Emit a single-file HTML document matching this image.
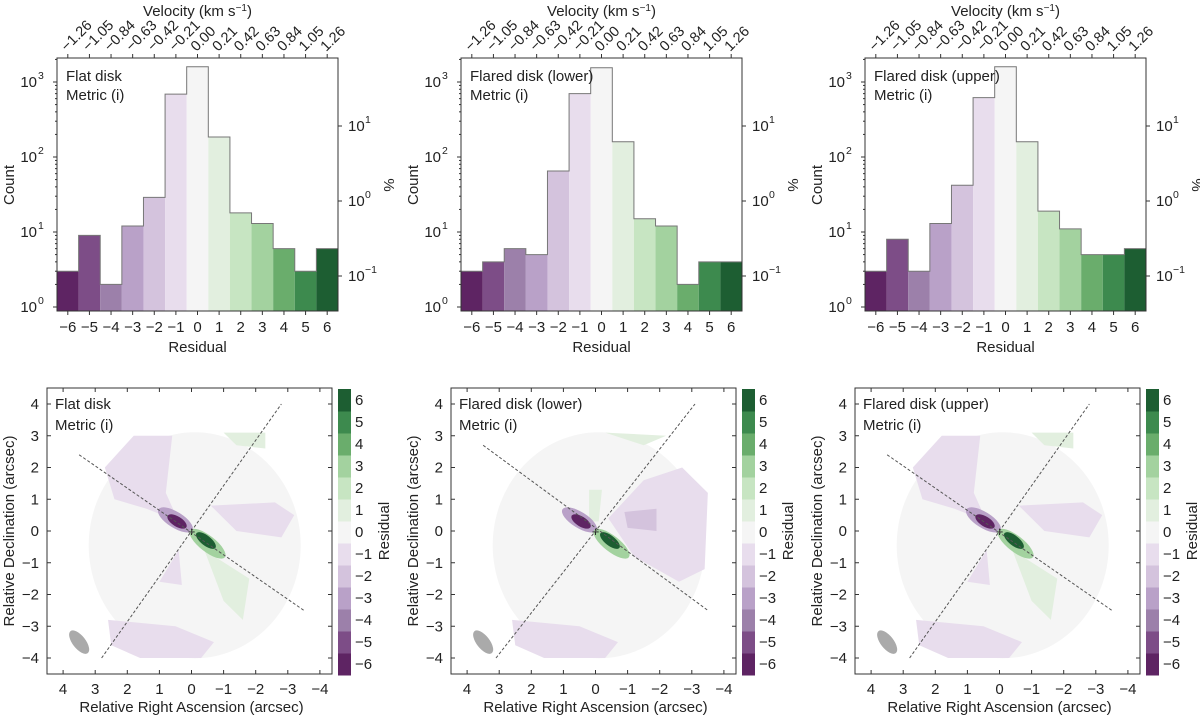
<!DOCTYPE html>
<html><head><meta charset="utf-8"><style>
body{margin:0;background:#fff}
svg{display:block;font-family:"Liberation Sans",sans-serif}
</style></head><body>
<svg id="fig" width="1200" height="717" viewBox="0 0 1200 717"></svg>
<script>
const residualBins=[-6,-5,-4,-3,-2,-1,0,1,2,3,4,5,6];
const countsFlat=[3,9,2,12,29,690,1600,185,18,13,6,3,6];
const countsLower=[3,4,6,5,65,700,1550,160,15,12,2,4,4];
const countsUpper=[3,8,3,13,42,620,1600,160,19,11,5,5,6];
const velocityTicks=["\u22121.26","\u22121.05","\u22120.84","\u22120.63","\u22120.42","\u22120.21","0.00","0.21","0.42","0.63","0.84","1.05","1.26"];
const countTicks=[1,10,100,1000];
const pctTicks=[0.1,1,10];
const mapTicks=[4,3,2,1,0,-1,-2,-3,-4];
const panelNames=["Flat disk","Flared disk (lower)","Flared disk (upper)"];
const colors=["#5e2463","#7d4d87","#9c80aa","#b9a1c8","#d4c3dd","#e8dded","#f5f5f5","#e2efdf","#c7e5c2","#a3d29f","#6aad6c","#3d8a4e","#1d5e32"];
const NS="http://www.w3.org/2000/svg";
const svg=document.getElementById('fig');
const FS=15;
function el(tag,attrs,parent,text){const e=document.createElementNS(NS,tag);for(const k in attrs)e.setAttribute(k,attrs[k]);if(text!==undefined)e.textContent=text;(parent||svg).appendChild(e);return e;}
function fmt(n){return n<0?"\u2212"+(-n):""+n;}
const allCounts=[countsFlat,countsLower,countsUpper];
const N=2590;
for(let p=0;p<3;p++){
  const ox=p*404;
  const g=el('g',{});
  
  
  const L=57+ox,R=338+ox,T=58,B=311;
  const bw=(R-L)/13;
  const xs=v=>L+(v+6.5)*bw;
  const ys=c=>307-75*Math.log10(c);
  const counts=allCounts[p];
  let path="";
  counts.forEach((c,i)=>{
    const x0=xs(residualBins[i]-0.5),y=ys(c);
    const r=el('rect',{x:x0,y:y,width:bw,height:B-y,fill:colors[i]},g);
    
    
    path+=(i==0?"M"+x0+","+y:" L"+x0+","+y)+" L"+(x0+bw)+","+y;
  });
  el('path',{d:path,fill:'none',stroke:'#777','stroke-width':1},g);
  el('rect',{x:L,y:T,width:R-L,height:B-T,fill:'none',stroke:'#333','stroke-width':1},g);
  residualBins.forEach((v,i)=>{
    el('line',{x1:xs(v),x2:xs(v),y1:B,y2:B+4,stroke:'#333'},g);
    el('text',{x:xs(v),y:B+21,'font-size':FS,'text-anchor':'middle',fill:'#222'},g,fmt(v));
    el('line',{x1:xs(v),x2:xs(v),y1:T,y2:T-4,stroke:'#333'},g);
    const tx=xs(v)-1,ty=T-6;
    el('text',{x:tx,y:ty,'font-size':14.5,'text-anchor':'start',fill:'#222',transform:`rotate(-45 ${tx} ${ty})`},g,velocityTicks[i]);
  });
  const xl=el('text',{x:(L+R)/2,y:352,'font-size':FS,'text-anchor':'middle',fill:'#222'},g,'Residual');
  
  const vt=el('text',{x:(L+R)/2,y:16,'font-size':FS,'text-anchor':'middle',fill:'#222'},g);
  
  vt.innerHTML='Velocity (km s<tspan dy="-5" font-size="10">\u22121</tspan><tspan dy="5">)</tspan>';
  countTicks.forEach((c,i)=>{
    const y=ys(c);
    el('line',{x1:L,x2:L-4,y1:y,y2:y,stroke:'#333'},g);
    el('text',{x:L-20,y:y+5,'font-size':FS,'text-anchor':'end',fill:'#222'},g,'10');
    el('text',{x:L-19,y:y-3,'font-size':10.5,fill:'#222'},g,''+i);
  });
  for(let d=0;d<4;d++)for(let m=2;m<10;m++){const c=m*Math.pow(10,d);const y=ys(c);if(y<T)continue;el('line',{x1:L,x2:L-2,y1:y,y2:y,stroke:'#333'},g);}
  pctTicks.forEach(pc=>{
    const y=ys(pc*N/100);
    el('line',{x1:R,x2:R+4,y1:y,y2:y,stroke:'#333'},g);
    el('text',{x:R+10,y:y+5,'font-size':FS,fill:'#222'},g,'10');
    el('text',{x:R+27,y:y-3,'font-size':10.5,fill:'#222'},g,fmt(Math.round(Math.log10(pc))));
  });
  el('text',{x:ox+14,y:185,'font-size':FS,'text-anchor':'middle',fill:'#222',transform:`rotate(-90 ${ox+14} 185)`},g,'Count');
  el('text',{x:ox+384,y:185,'font-size':FS,'text-anchor':'middle',fill:'#222',transform:`rotate(90 ${ox+384} 185)`},g,'%');
  el('text',{x:L+9,y:T+23,'font-size':FS,fill:'#222'},g,panelNames[p]);
  el('text',{x:L+9,y:T+42,'font-size':FS,fill:'#222'},g,'Metric (i)');

  const mg=el('g',{});
  
  
  const ML=47+ox,MR=332+ox,MT=388,MB=674;
  const ax=a=>ox+191.5-32.1*a, ay=d=>531-31.75*d;
  el('rect',{x:ML,y:MT,width:MR-ML,height:MB-MT,fill:'#fff'},mg);
  el('ellipse',{cx:ax(-0.1),cy:ay(-0.45),rx:106,ry:113,fill:'#f5f5f5'},mg);
  const lp='#e8dded',lg='#e2efdf';
  if(p!==1){
    el('path',{d:`M${ax(1.8)},${ay(3)} L${ax(0.6)},${ay(3)} L${ax(0.8)},${ay(1.2)} L${ax(0.4)},${ay(0.3)} L${ax(1.4)},${ay(0.7)} L${ax(2.4)},${ay(1)} L${ax(2.7)},${ay(2)} Z`,fill:lp},mg);
    el('path',{d:`M${ax(-0.6)},${ay(0.8)} L${ax(-2.6)},${ay(0.9)} L${ax(-3.2)},${ay(0.5)} L${ax(-2.8)},${ay(-0.2)} L${ax(-1.4)},${ay(0)} Z`,fill:lp},mg);
    el('path',{d:`M${ax(0.4)},${ay(-0.6)} L${ax(1)},${ay(-1.6)} L${ax(0.3)},${ay(-1.7)} Z`,fill:lp},mg);
    el('path',{d:`M${ax(-0.4)},${ay(-0.6)} L${ax(-1.8)},${ay(-1.5)} L${ax(-1.6)},${ay(-2.8)} L${ax(-1.0)},${ay(-2.2)} Z`,fill:lg},mg);
    el('path',{d:`M${ax(-1)},${ay(3.1)} L${ax(-2.3)},${ay(3.1)} L${ax(-2.3)},${ay(2.6)} L${ax(-1.4)},${ay(2.7)} Z`,fill:lg},mg);
  } else {
    el('path',{d:`M${ax(-0.4)},${ay(0.4)} L${ax(-1.5)},${ay(1.6)} L${ax(-2.7)},${ay(2)} L${ax(-3.5)},${ay(1.2)} L${ax(-3.4)},${ay(-1.2)} L${ax(-2.6)},${ay(-1.6)} L${ax(-1.2)},${ay(-0.8)} Z`,fill:lp},mg);
    el('path',{d:`M${ax(-0.9)},${ay(0.6)} L${ax(-1.9)},${ay(0.7)} L${ax(-1.9)},${ay(0)} L${ax(-1)},${ay(0.1)} Z`,fill:'#d4c3dd'},mg);
    el('path',{d:`M${ax(0.2)},${ay(1.3)} L${ax(-0.2)},${ay(1.3)} L${ax(-0.1)},${ay(0.3)} L${ax(0.2)},${ay(0.3)} Z`,fill:lg},mg);
    el('path',{d:`M${ax(-0.3)},${ay(3.1)} L${ax(-2.2)},${ay(3)} L${ax(-1.5)},${ay(2.7)} Z`,fill:lg},mg);
  }
  el('path',{d:`M${ax(2.6)},${ay(-2.8)} L${ax(0.5)},${ay(-3)} L${ax(-0.7)},${ay(-3.5)} L${ax(-0.3)},${ay(-4)} L${ax(1.6)},${ay(-4)} L${ax(2.5)},${ay(-3.6)} Z`,fill:lp},mg);
  el('ellipse',{cx:ax(0.5),cy:ay(0.35),rx:20,ry:8,fill:'#b9a1c8',transform:`rotate(32 ${ax(0.5)} ${ay(0.35)})`},mg);
  el('ellipse',{cx:ax(0.45),cy:ay(0.3),rx:11,ry:5,fill:'#5e2463',transform:`rotate(32 ${ax(0.45)} ${ay(0.3)})`},mg);
  el('ellipse',{cx:ax(-0.5),cy:ay(-0.4),rx:22,ry:8,fill:'#a3d29f',transform:`rotate(38 ${ax(-0.5)} ${ay(-0.4)})`},mg);
  el('ellipse',{cx:ax(-0.45),cy:ay(-0.3),rx:12,ry:5,fill:'#1d5e32',transform:`rotate(38 ${ax(-0.45)} ${ay(-0.3)})`},mg);
  el('text',{x:ax(0),y:ay(0)+5,'font-size':13,'text-anchor':'middle',fill:'#222'},mg,'+');
  const l1=[[3.5,2.4],[-3.5,-2.5]], l2=p==1?[[3.1,-4],[-3.1,4]]:[[2.8,-4],[-2.8,4]];
  if(p==1)l1[0][1]=2.7;
  [l1,l2].forEach(l=>el('line',{x1:ax(l[0][0]),y1:ay(l[0][1]),x2:ax(l[1][0]),y2:ay(l[1][1]),stroke:'#555','stroke-dasharray':'3,2','stroke-width':1},mg));
  el('ellipse',{cx:ax(3.5),cy:ay(-3.5),rx:6.5,ry:14,fill:'#aaa',transform:`rotate(-38 ${ax(3.5)} ${ay(-3.5)})`},mg);
  el('rect',{x:ML,y:MT,width:MR-ML,height:MB-MT,fill:'none',stroke:'#333'},mg);
  mapTicks.forEach(v=>{
    el('line',{x1:ax(v),x2:ax(v),y1:MB,y2:MB-4,stroke:'#333'},mg);
    el('line',{x1:ax(v),x2:ax(v),y1:MT,y2:MT+4,stroke:'#333'},mg);
    el('text',{x:ax(v),y:MB+20,'font-size':FS,'text-anchor':'middle',fill:'#222'},mg,fmt(v));
    el('line',{x1:ML,x2:ML+4,y1:ay(v),y2:ay(v),stroke:'#333'},mg);
    el('line',{x1:MR,x2:MR-4,y1:ay(v),y2:ay(v),stroke:'#333'},mg);
    el('text',{x:ML-8,y:ay(v)+5,'font-size':FS,'text-anchor':'end',fill:'#222'},mg,fmt(v));
  });
  el('text',{x:ax(0),y:712,'font-size':FS,'text-anchor':'middle',fill:'#222'},mg,'Relative Right Ascension (arcsec)');
  el('text',{x:ox+14,y:531,'font-size':FS,'text-anchor':'middle',fill:'#222',transform:`rotate(-90 ${ox+14} 531)`},mg,'Relative Declination (arcsec)');
  el('text',{x:ML+8,y:MT+21,'font-size':FS,fill:'#222'},mg,panelNames[p]);
  el('text',{x:ML+8,y:MT+42,'font-size':FS,fill:'#222'},mg,'Metric (i)');
  const cb=el('g',{},mg);
  
  
  const CT=389,CB=675,ch=(CB-CT)/13;
  residualBins.forEach((v,i)=>{
    const y=CB-(i+1)*ch;
    el('rect',{x:ox+338,y:y,width:13,height:ch+0.5,fill:colors[i]},cb);
    el('text',{x:ox+355,y:y+ch/2+5,'font-size':FS,fill:'#222'},cb,fmt(v));
  });
  el('text',{x:ox+389,y:531,'font-size':FS,'text-anchor':'middle',fill:'#222',transform:`rotate(-90 ${ox+389} 531)`},cb,'Residual');
}
</script>
</body></html>
